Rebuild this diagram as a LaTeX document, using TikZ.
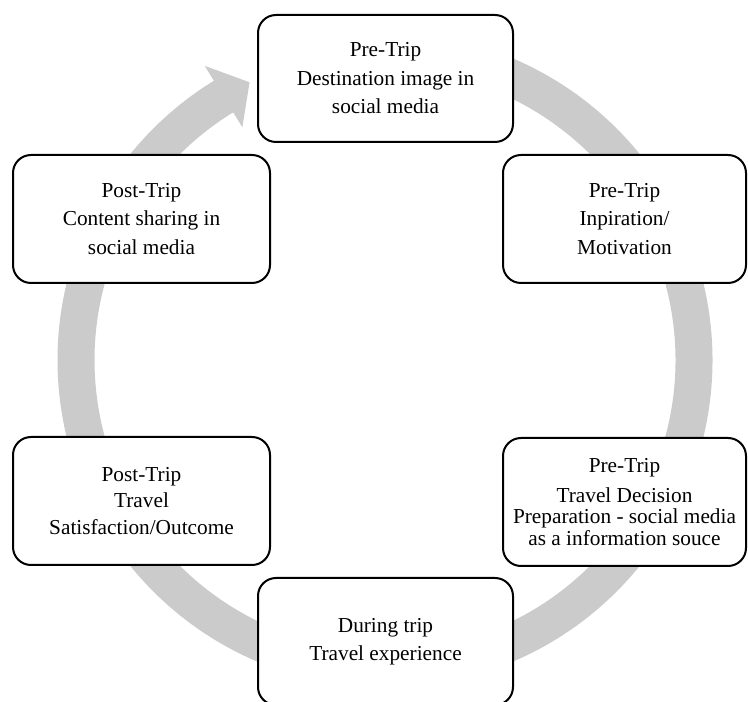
\documentclass[tikz,border=0pt]{standalone}
\usepackage{fontspec}
\setmainfont{Liberation Serif}
\begin{document}
\begin{tikzpicture}[x=1pt,y=1pt,
  stagebox/.style={draw=black, line width=2pt, fill=white, rounded corners=18pt,
    align=center, inner sep=0pt, font=\fontsize{21.3}{28.5}\selectfont},
  ringcol/.style={draw=ringgray, line width=37pt},
]
\definecolor{ringgray}{HTML}{CBCBCB}
\useasboundingbox (0,0) rectangle (748,702);
\clip (0,0) rectangle (748,702);
\coordinate (c) at (385,342);
% ring arrow
\draw[ringcol] ([shift={(95:309)}]c) arc[start angle=95, end angle=-239, radius=309];
\fill[ringgray] ([shift={(121.5:345)}]c) -- ([shift={(116:309)}]c) -- ([shift={(121.5:273)}]c) -- cycle;
% boxes
\node[stagebox, minimum width=255pt, minimum height=127pt] (top) at (385.5,623.5)
  {Pre-Trip\\Destination image in\\social media};
\node[stagebox, minimum width=243pt, minimum height=128pt] (tr) at (624.5,483)
  {Pre-Trip\\Inpiration/\\Motivation};
\node[stagebox, minimum width=243pt, minimum height=128pt, font=\fontsize{21.3}{21.5}\selectfont] (br) at (624.5,200)
  {Pre-Trip\\[8pt]Travel Decision\\Preparation - social media\\as a information souce};
\node[stagebox, minimum width=255pt, minimum height=127pt] (bot) at (385.5,60.5)
  {During trip\\Travel experience};
\node[stagebox, minimum width=257pt, minimum height=128pt, font=\fontsize{21.3}{26.5}\selectfont] (bl) at (141.5,201)
  {Post-Trip\\Travel\\Satisfaction/Outcome};
\node[stagebox, minimum width=257pt, minimum height=128pt] (tl) at (141.5,483)
  {Post-Trip\\Content sharing in\\social media};
\end{tikzpicture}
\end{document}
